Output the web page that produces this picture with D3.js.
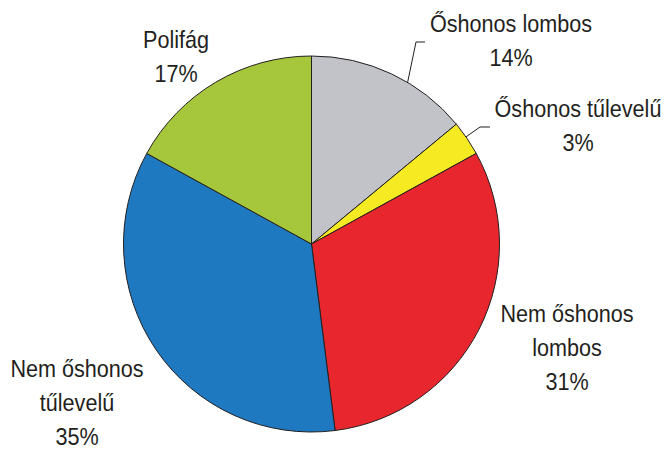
<!DOCTYPE html>
<html>
<head>
<meta charset="utf-8">
<script src="https://cdn.jsdelivr.net/npm/d3@7"></script>
<style>
  body { margin: 0; background: #fff; }
  text { font-family: "Liberation Sans", Arial, sans-serif; font-size: 24px; fill: #231f20; }
</style>
</head>
<body>
<div id="viz"></div>
<script>
var categories = ["Őshonos lombos", "Őshonos tűlevelű", "Nem őshonos lombos", "Nem őshonos tűlevelű", "Polifág"];
var values = [14, 3, 31, 35, 17];
var colors = ["#c1c3c8", "#f6eb23", "#e8262d", "#1f79c0", "#a6c63c"];
// label lines, as drawn in the original
var labelLines = [
  ["Őshonos lombos", "14%"],
  ["Őshonos tűlevelű", "3%"],
  ["Nem őshonos", "lombos", "31%"],
  ["Nem őshonos", "tűlevelű", "35%"],
  ["Polifág", "17%"]
];

var width = 665,
    height = 452,
    cx = 311.5,
    cy = 244,
    radius = 188;

var svg = d3.select('#viz').append('svg')
  .attr('width', width)
  .attr('height', height);

var pie = d3.pie().sort(null).value(function(d) { return d; });
var arc = d3.arc().innerRadius(0).outerRadius(radius);
var arcs = pie(values);

var g = svg.append('g')
  .attr('transform', 'translate(' + cx + ',' + cy + ')');

g.selectAll('path').data(arcs)
  .enter().append('path')
    .attr('d', arc)
    .attr('fill', function(d, i) { return colors[i]; })
    .attr('stroke', '#231f20')
    .attr('stroke-width', 1);

// label anchor positions relative to the pie centre
var labelPos = [
  { x: 199.5, y: -212 },
  { x: 266.5, y: -127 },
  { x: 255.5, y: 78 },
  { x: -234.5, y: 133 },
  { x: -135.5, y: -196 }
];
var lineHeight = 34;

labelLines.forEach(function(lines, i) {
  // narrow the font a bit, the original uses a condensed face
  var t = g.append('g')
    .attr('transform', 'translate(' + labelPos[i].x + ',' + labelPos[i].y + ') scale(0.9,1)')
    .append('text')
    .attr('text-anchor', 'middle');
  lines.forEach(function(l, j) {
    t.append('tspan')
      .attr('x', 0)
      .attr('dy', j == 0 ? 0 : lineHeight)
      .text(l);
  });
});

// leader lines for the two small top slices
var leaders = [
  { f: 0.61, out: [[104.5, -202], [113.5, -202]] },
  { f: 0.45, out: [[168.5, -117], [178.5, -117]] }
];
leaders.forEach(function(ld, i) {
  var a = arcs[i].startAngle + (arcs[i].endAngle - arcs[i].startAngle) * ld.f;
  var p0 = [Math.sin(a) * radius, -Math.cos(a) * radius];
  var pts = [p0].concat(ld.out);
  g.append('path')
    .attr('d', d3.line()(pts))
    .attr('fill', 'none')
    .attr('stroke', '#231f20')
    .attr('stroke-width', 1);
});
</script>
</body>
</html>
